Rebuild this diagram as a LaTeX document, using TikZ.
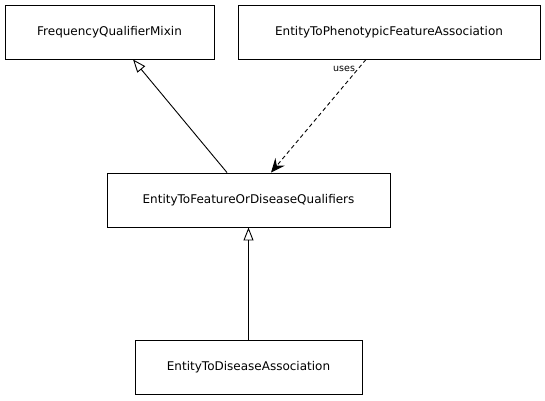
\documentclass[tikz,border=0pt]{standalone}
\usepackage{fontspec}
\setmainfont{DejaVu Sans}
\usetikzlibrary{arrows.meta}
\begin{document}
\begin{tikzpicture}[x=1bp,y=-1bp,
  cls/.style={draw, line width=0.9bp, minimum height=54bp, inner sep=0pt, font=\fontsize{12bp}{14bp}\selectfont},
  gen/.style={line width=0.9bp, -{Triangle[open, length=13bp, width=10bp]}},
  dep/.style={line width=0.9bp, dashed, dash pattern=on 4bp off 3bp, -{Stealth[length=14bp, width=12bp, inset=5bp]}}]
\useasboundingbox (0,0) rectangle (545,400);
\node[cls, minimum width=209bp] (A) at (109.5,32) {FrequencyQualifierMixin};
\node[cls, minimum width=302bp] (B) at (389,32) {EntityToPhenotypicFeatureAssociation};
\node[cls, minimum width=283bp] (C) at (248.5,200) {EntityToFeatureOrDiseaseQualifiers};
\node[cls, minimum width=227bp] (D) at (248.5,367) {EntityToDiseaseAssociation};
\draw[gen] (C.north -| 227,0) -- (A.south -| 133,0);
\draw[dep] (B.south -| 366,0) -- node[pos=0.08, left, font=\fontsize{9.5bp}{11bp}\selectfont, inner sep=3bp] {uses} (C.north -| 271,0);
\draw[gen] (D.north) -- (C.south);
\end{tikzpicture}
\end{document}
